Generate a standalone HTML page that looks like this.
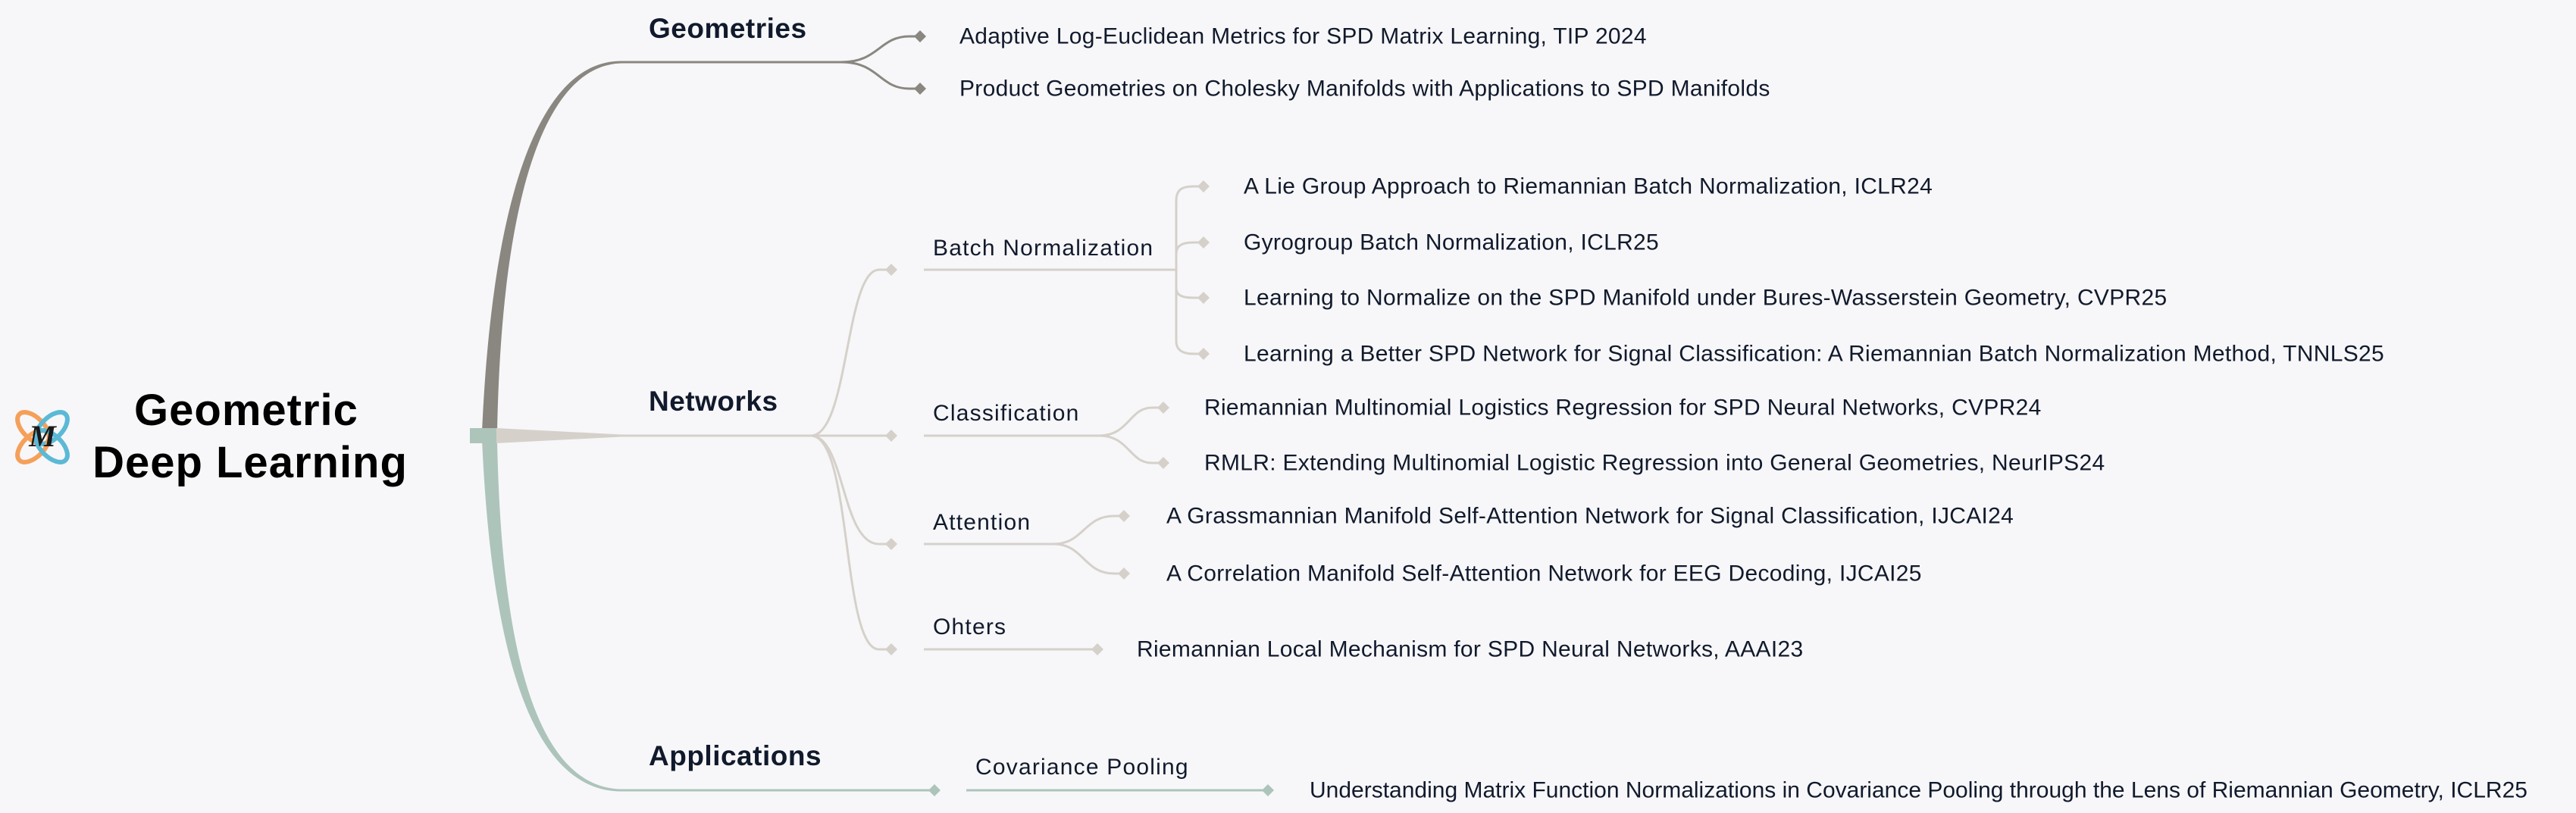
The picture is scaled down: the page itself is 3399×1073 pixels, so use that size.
<!DOCTYPE html>
<html><head><meta charset="utf-8"><style>
html,body{margin:0;padding:0;background:#f7f7f9;}
svg{display:block}
text{font-family:"Liberation Sans",sans-serif;fill:#111a2c;}
.l{font-size:30px;dominant-baseline:central;letter-spacing:0.3px}
.s{font-size:30px;letter-spacing:1.2px}
.m{font-size:37px;font-weight:bold;letter-spacing:0.5px}
</style></head><body>
<svg width="3399" height="1073" viewBox="0 0 3399 1073" xmlns="http://www.w3.org/2000/svg">
<defs>
<path id="d" d="M0,-8 L8,0 L0,8 L-8,0 Z"/>
</defs>
<g transform="translate(56,577)">
<ellipse cx="-12" cy="-12" rx="26" ry="14" transform="rotate(45 -12 -12)" fill="none" stroke="#f5a05a" stroke-width="6"/>
<ellipse cx="12" cy="-12" rx="26" ry="14" transform="rotate(-45 12 -12)" fill="none" stroke="#5cb9d6" stroke-width="6"/>
<ellipse cx="-12" cy="12" rx="26" ry="14" transform="rotate(-45 -12 12)" fill="none" stroke="#f5a05a" stroke-width="6"/>
<ellipse cx="12" cy="12" rx="26" ry="14" transform="rotate(45 12 12)" fill="none" stroke="#5cb9d6" stroke-width="6"/>
<text x="0" y="12" text-anchor="middle" style="font-family:'Liberation Serif',serif;font-style:italic;font-weight:bold;font-size:40px;fill:#1a1a1a">M</text>
</g>
<text x="325" y="561" text-anchor="middle" style="font-size:58px;font-weight:bold;fill:#000;letter-spacing:1px">Geometric</text>
<text x="330" y="630" text-anchor="middle" style="font-size:58px;font-weight:bold;fill:#000;letter-spacing:1px">Deep Learning</text>

<path d="M636,570 C650,250 715,80 820,80.5 L820,83.5 C722,86 662,250 656,570 Z" fill="#8a8780"/>
<path d="M636,580 C650,900 715,1044.5 820,1044.5 L820,1041.5 C722,1040 662,900 656,580 Z" fill="#adc4bb"/>
<rect x="620" y="565" width="35" height="20" fill="#adc4bb"/>
<polygon points="655,565 820,573.5 820,576.5 655,585" fill="#d5d1ca"/>

<g stroke="#8a8780" stroke-width="3" fill="none">
<path d="M820,82 L1110,82 C1160,82 1160,48 1200,48 L1212,48"/>
<path d="M1110,82 C1160,82 1160,117 1200,117 L1212,117"/>
</g>
<g fill="#8a8780"><use href="#d" x="1214" y="48"/><use href="#d" x="1214" y="117"/></g>
<text class="m" x="856" y="50">Geometries</text>
<text class="l" x="1266" y="48">Adaptive Log-Euclidean Metrics for SPD Matrix Learning, TIP 2024</text>
<text class="l" x="1266" y="117">Product Geometries on Cholesky Manifolds with Applications to SPD Manifolds</text>

<text class="m" x="856" y="542">Networks</text>
<g stroke="#d5d1ca" stroke-width="3" fill="none">
<path d="M820,575 L1070,575 C1120,575 1115,356 1160,356 L1174,356"/>
<path d="M1070,575 L1174,575"/>
<path d="M1070,575 C1115,575 1110,718 1160,718 L1174,718"/>
<path d="M1070,575 C1125,575 1110,857 1160,857 L1174,857"/>
<path d="M1219,356 L1552,356"/>
<path d="M1552,356 L1552,265 C1552,250 1560,246 1575,246 L1586,246"/>
<path d="M1552,356 L1552,335 C1552,324 1560,320 1575,320 L1586,320"/>
<path d="M1552,356 L1552,380 C1552,390 1560,393 1575,393 L1586,393"/>
<path d="M1552,356 L1552,450 C1552,462 1560,467 1575,467 L1586,467"/>
<path d="M1219,575 L1450,575 C1490,575 1490,538 1520,538 L1533,538"/>
<path d="M1450,575 C1490,575 1490,611 1520,611 L1533,611"/>
<path d="M1219,718 L1390,718 C1430,718 1430,681 1470,681 L1481,681"/>
<path d="M1390,718 C1430,718 1430,757 1470,757 L1481,757"/>
<path d="M1219,857 L1446,857"/>
</g>
<g fill="#d5d1ca">
<use href="#d" x="1176" y="356"/><use href="#d" x="1176" y="575"/><use href="#d" x="1176" y="718"/><use href="#d" x="1176" y="857"/>
<use href="#d" x="1588" y="246"/><use href="#d" x="1588" y="320"/><use href="#d" x="1588" y="393"/><use href="#d" x="1588" y="467"/>
<use href="#d" x="1535" y="538"/><use href="#d" x="1535" y="611"/>
<use href="#d" x="1483" y="681"/><use href="#d" x="1483" y="757"/>
<use href="#d" x="1448" y="857"/>
</g>
<text class="s" x="1231" y="337">Batch Normalization</text>
<text class="s" x="1231" y="555">Classification</text>
<text class="s" x="1231" y="699">Attention</text>
<text class="s" x="1231" y="837">Ohters</text>
<text class="l" x="1641" y="246">A Lie Group Approach to Riemannian Batch Normalization, ICLR24</text>
<text class="l" x="1641" y="320">Gyrogroup Batch Normalization, ICLR25</text>
<text class="l" x="1641" y="393">Learning to Normalize on the SPD Manifold under Bures-Wasserstein Geometry, CVPR25</text>
<text class="l" x="1641" y="467">Learning a Better SPD Network for Signal Classification: A Riemannian Batch Normalization Method, TNNLS25</text>
<text class="l" x="1589" y="538">Riemannian Multinomial Logistics Regression for SPD Neural Networks, CVPR24</text>
<text class="l" x="1589" y="611">RMLR: Extending Multinomial Logistic Regression into General Geometries, NeurIPS24</text>
<text class="l" x="1539" y="681">A Grassmannian Manifold Self-Attention Network for Signal Classification, IJCAI24</text>
<text class="l" x="1539" y="757">A Correlation Manifold Self-Attention Network for EEG Decoding, IJCAI25</text>
<text class="l" x="1500" y="857">Riemannian Local Mechanism for SPD Neural Networks, AAAI23</text>

<text class="m" x="856" y="1010">Applications</text>
<g stroke="#adc4bb" stroke-width="3" fill="none">
<path d="M820,1043 L1230,1043"/>
<path d="M1275,1043 L1670,1043"/>
</g>
<g fill="#adc4bb"><use href="#d" x="1233" y="1043"/><use href="#d" x="1673" y="1043"/></g>
<text class="s" x="1287" y="1022">Covariance Pooling</text>
<text class="l" x="1728" y="1043" style="letter-spacing:0px">Understanding Matrix Function Normalizations in Covariance Pooling through the Lens of Riemannian Geometry, ICLR25</text>
</svg>
</body></html>
